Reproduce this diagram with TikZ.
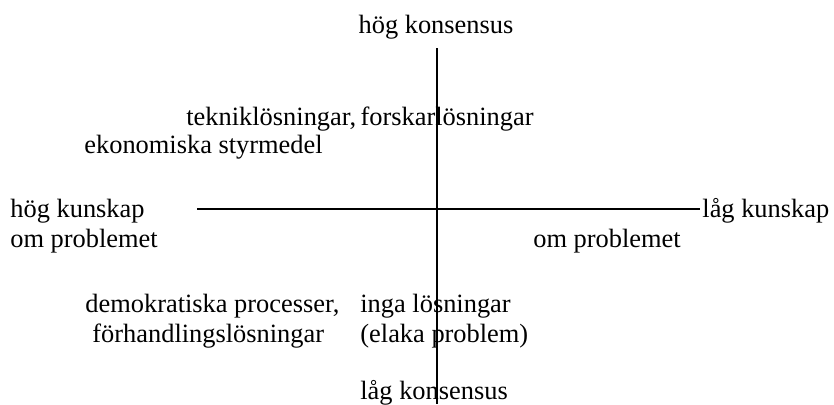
\documentclass[tikz,border=0pt]{standalone}
\usepackage{fontspec}
\setmainfont{Liberation Serif}
\begin{document}
\begin{tikzpicture}[x=0.5pt,y=-0.5pt,
  lbl/.style={anchor=base west,inner sep=0pt,font=\fontsize{13.2pt}{15pt}\selectfont},
  axis/.style={line width=0.7pt}]
\useasboundingbox (0,0) rectangle (834,404);
\coordinate (vt) at (437,48);
\coordinate (vb) at (437,404);
\coordinate (hl) at (197,209);
\coordinate (hr) at (700,209);
\draw[axis] (vt) -- (vb);
\draw[axis] (hl) -- (hr);
\node[lbl,anchor=base] (hk) at (436,33) {hög konsensus};
\node[lbl] (tek) at (186,125) {tekniklösningar,\,forskarlösningar};
\node[lbl] (eko) at (84,153) {ekonomiska styrmedel};
\node[lbl] (hku) at (10,217) {hög kunskap};
\node[lbl] (om1) at (10,247) {om problemet};
\node[lbl] (lku) at (702,217) {låg kunskap};
\node[lbl] (om2) at (533,247) {om problemet};
\node[lbl] (dem) at (85,312) {demokratiska processer,};
\node[lbl] (inga) at (360,312) {inga lösningar};
\node[lbl] (for) at (92,342) {förhandlingslösningar};
\node[lbl] (ela) at (360,342) {(elaka problem)};
\node[lbl] (lkon) at (360,399) {låg konsensus};
\end{tikzpicture}
\end{document}
